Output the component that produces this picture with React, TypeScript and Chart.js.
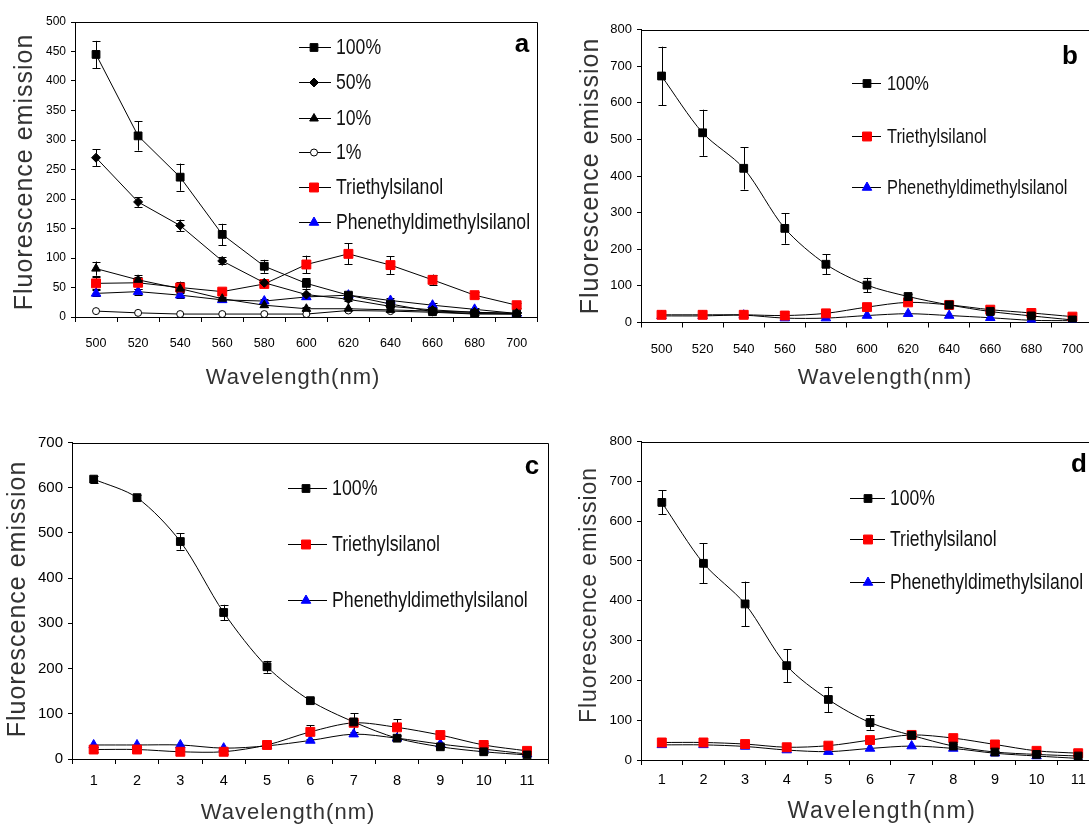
import React, { useEffect, useRef } from 'react';
import { Chart, registerables } from 'chart.js';
import { drawPoint } from 'chart.js/helpers';

Chart.register(...registerables);

// ---------- categories ----------
const wavelengthLabels = ['500', '520', '540', '560', '580', '600', '620', '640', '660', '680', '700'];
const indexLabels = ['1', '2', '3', '4', '5', '6', '7', '8', '9', '10', '11'];

// ---------- panel a ----------
const a100 = [445, 307, 237, 140, 86, 57, 37, 22, 9, 6, 5];
const a100Err = [23, 25, 23, 18, 11, 9, 4, 3, 2, 2, 2];
const a50 = [270, 195, 155, 95, 58, 38, 30, 18, 12, 8, 6];
const a50Err = [14, 8, 10, 6, 3, 3, 3, 2, 2, 2, 2];
const a10 = [82, 63, 48, 31, 20, 14, 14, 12, 10, 8, 6];
const a10Err = [12, 8, 6, 3, 3, 3, 2, 2, 2, 2, 2];
const a1 = [10, 7, 5, 5, 5, 5, 11, 10, 8, 5, 5];
const aTri = [57, 58, 50, 43, 56, 89, 107, 88, 63, 37, 20];
const aTriErr = [10, 10, 10, 4, 5, 15, 18, 15, 9, 5, 4];
const aPhen = [40, 43, 37, 29, 27, 34, 37, 28, 20, 13, 6];
const aPhenErr = [5, 5, 5, 3, 3, 4, 5, 5, 4, 3, 2];

// ---------- panel b ----------
const b100 = [673, 518, 421, 257, 159, 102, 71, 48, 30, 18, 7];
const b100Err = [80, 63, 58, 42, 27, 20, 6, 4, 3, 3, 2];
const bTri = [21, 21, 21, 19, 25, 42, 55, 48, 35, 26, 16];
const bPhen = [18, 18, 20, 12, 12, 19, 24, 19, 13, 6, 5];

// ---------- panel c ----------
const c100 = [619, 578, 481, 324, 204, 129, 82, 46, 27, 16, 9];
const c100Err = [8, 6, 18, 17, 13, 6, 5, 4, 3, 3, 2];
const cTri = [21, 21, 16, 16, 31, 60, 80, 70, 53, 31, 18];
const cTriErr = [5, 6, 4, 4, 4, 15, 21, 18, 6, 5, 3];
const cPhen = [31, 31, 31, 24, 29, 41, 55, 46, 33, 22, 11];

// ---------- panel d ----------
const d100 = [647, 494, 392, 237, 152, 94, 62, 35, 20, 14, 10];
const d100Err = [30, 50, 56, 41, 32, 18, 5, 4, 3, 3, 2];
const dTri = [44, 44, 40, 32, 36, 50, 63, 55, 39, 23, 17];
const dPhen = [38, 38, 34, 25, 21, 29, 35, 29, 17, 10, 4];

const yTitleText = 'Fluorescence emission';
const xTitleText = 'Wavelength(nm)';

const SANS = "'Liberation Sans', Arial, sans-serif";

type Marker = { style: string; radius: number; fill: string; stroke: string };
const SQ_BLACK: Marker = { style: 'rect', radius: 5.5, fill: '#000', stroke: '#000' };
const DIAMOND: Marker = { style: 'rectRot', radius: 4.5, fill: '#000', stroke: '#000' };
const TRI_BLACK: Marker = { style: 'triangle', radius: 5, fill: '#000', stroke: '#000' };
const CIRCLE_OPEN: Marker = { style: 'circle', radius: 3.5, fill: '#fff', stroke: '#000' };
const SQ_RED: Marker = { style: 'rect', radius: 6.3, fill: '#ff0000', stroke: '#ff0000' };
const TRI_BLUE: Marker = { style: 'triangle', radius: 5.5, fill: '#0000ff', stroke: '#0000ff' };

type SeriesSpec = { label: string; data: number[]; err?: number[]; marker: Marker };

interface Panel {
  letter: string;
  labels: string[];
  yMax: number;
  yStep: number;
  tension: number;
  series: SeriesSpec[];
  canvas: { left: number; top: number; width: number; height: number };
  area: { left: number; top: number; right: number; bottom: number };
  legend: { x0: number; x1: number; mx: number; tx: number; ys: number[]; size: number };
  letterPos: { x: number; y: number };
  yTitle: { x: number; y: number; size: number; spacing: number };
  xTitle: { x: number; y: number; size: number; spacing: number };
  xTick: { size: number; pad: number };
  yTick: { size: number };
}

const panels: Panel[] = [
  {
    letter: 'a',
    labels: wavelengthLabels,
    yMax: 500,
    yStep: 50,
    tension: 0,
    series: [
      { label: '100%', data: a100, err: a100Err, marker: SQ_BLACK },
      { label: '50%', data: a50, err: a50Err, marker: DIAMOND },
      { label: '10%', data: a10, err: a10Err, marker: TRI_BLACK },
      { label: '1%', data: a1, marker: CIRCLE_OPEN },
      { label: 'Triethylsilanol', data: aTri, err: aTriErr, marker: SQ_RED },
      { label: 'Phenethyldimethylsilanol', data: aPhen, err: aPhenErr, marker: TRI_BLUE },
    ],
    canvas: { left: 0, top: 0, width: 545, height: 400 },
    area: { left: 75, top: 22, right: 541, bottom: 317 },
    legend: { x0: 299, x1: 331, mx: 314, tx: 336, ys: [47, 82, 118, 152, 187, 222], size: 21.5 },
    letterPos: { x: 522, y: 45 },
    yTitle: { x: 25, y: 172, size: 25, spacing: 1 },
    xTitle: { x: 293, y: 378, size: 22, spacing: 1 },
    xTick: { size: 12.5, pad: 14 },
    yTick: { size: 12 },
  },
  {
    letter: 'b',
    labels: wavelengthLabels,
    yMax: 800,
    yStep: 100,
    tension: 0.3,
    series: [
      { label: '100%', data: b100, err: b100Err, marker: SQ_BLACK },
      { label: 'Triethylsilanol', data: bTri, marker: SQ_RED },
      { label: 'Phenethyldimethylsilanol', data: bPhen, marker: TRI_BLUE },
    ],
    canvas: { left: 543, top: 0, width: 560, height: 400 },
    area: { left: 641, top: 29.5, right: 1093, bottom: 322.5 },
    legend: { x0: 852, x1: 881, mx: 867, tx: 887, ys: [83, 136, 187], size: 20 },
    letterPos: { x: 1070, y: 57 },
    yTitle: { x: 591.5, y: 176, size: 25, spacing: 1 },
    xTitle: { x: 885, y: 378, size: 22, spacing: 1 },
    xTick: { size: 13, pad: 14 },
    yTick: { size: 13 },
  },
  {
    letter: 'c',
    labels: indexLabels,
    yMax: 700,
    yStep: 100,
    tension: 0.3,
    series: [
      { label: '100%', data: c100, err: c100Err, marker: SQ_BLACK },
      { label: 'Triethylsilanol', data: cTri, err: cTriErr, marker: SQ_RED },
      { label: 'Phenethyldimethylsilanol', data: cPhen, marker: TRI_BLUE },
    ],
    canvas: { left: 0, top: 400, width: 556, height: 440 },
    area: { left: 72, top: 442.5, right: 552.5, bottom: 759 },
    legend: { x0: 288, x1: 327, mx: 306, tx: 332, ys: [488, 544, 600], size: 21.7 },
    letterPos: { x: 532, y: 467 },
    yTitle: { x: 18, y: 599, size: 25, spacing: 1 },
    xTitle: { x: 288, y: 813, size: 22, spacing: 1 },
    xTick: { size: 14.5, pad: 8 },
    yTick: { size: 15 },
  },
  {
    letter: 'd',
    labels: indexLabels,
    yMax: 800,
    yStep: 100,
    tension: 0.3,
    series: [
      { label: '100%', data: d100, err: d100Err, marker: SQ_BLACK },
      { label: 'Triethylsilanol', data: dTri, marker: SQ_RED },
      { label: 'Phenethyldimethylsilanol', data: dPhen, marker: TRI_BLUE },
    ],
    canvas: { left: 556, top: 400, width: 560, height: 440 },
    area: { left: 641, top: 441.5, right: 1099, bottom: 760 },
    legend: { x0: 850, x1: 885, mx: 868, tx: 890, ys: [498, 539, 582], size: 21.4 },
    letterPos: { x: 1079, y: 465 },
    yTitle: { x: 590, y: 595, size: 23, spacing: 1 },
    xTitle: { x: 882, y: 812, size: 23, spacing: 1.5 },
    xTick: { size: 14.5, pad: 6 },
    yTick: { size: 13.5 },
  },
];

const SQUEEZE = 0.82;

function makeDecor(p: Panel) {
  const ox = p.canvas.left;
  const oy = p.canvas.top;
  return {
    id: 'decor_' + p.letter,
    beforeDatasetsDraw(chart: any) {
      const ctx = chart.ctx;
      const ys = chart.scales.y;
      ctx.save();
      ctx.strokeStyle = '#000';
      ctx.lineWidth = 1;
      p.series.forEach((s, i) => {
        if (!s.err) return;
        const meta = chart.getDatasetMeta(i);
        meta.data.forEach((pt: any, j: number) => {
          const e = s.err![j];
          if (!e) return;
          const v = s.data[j];
          const yT = ys.getPixelForValue(v + e);
          const yB = ys.getPixelForValue(Math.max(0, v - e));
          const x = Math.round(pt.x) + 0.5;
          ctx.beginPath();
          ctx.moveTo(x, yT);
          ctx.lineTo(x, yB);
          ctx.moveTo(x - 4, Math.round(yT) + 0.5);
          ctx.lineTo(x + 4, Math.round(yT) + 0.5);
          ctx.moveTo(x - 4, Math.round(yB) + 0.5);
          ctx.lineTo(x + 4, Math.round(yB) + 0.5);
          ctx.stroke();
        });
      });
      ctx.restore();
    },
    afterDraw(chart: any) {
      const ctx = chart.ctx;
      const a = chart.chartArea;
      ctx.save();
      // frame
      ctx.strokeStyle = '#000';
      ctx.lineWidth = 1;
      const l = Math.round(a.left) + 0.5;
      const t = Math.round(a.top) + 0.5;
      const r = Math.round(a.right) - 0.5;
      const b = Math.round(a.bottom) + 0.5;
      ctx.beginPath();
      ctx.moveTo(l, b);
      ctx.lineTo(l, t);
      ctx.lineTo(r, t);
      ctx.lineTo(r, b);
      ctx.stroke();

      // legend
      p.series.forEach((s, i) => {
        const y = p.legend.ys[i] - oy;
        ctx.strokeStyle = '#000';
        ctx.lineWidth = 1;
        ctx.beginPath();
        ctx.moveTo(p.legend.x0 - ox, Math.round(y) + 0.5);
        ctx.lineTo(p.legend.x1 - ox, Math.round(y) + 0.5);
        ctx.stroke();
        ctx.fillStyle = s.marker.fill;
        ctx.strokeStyle = s.marker.stroke;
        drawPoint(
          ctx,
          { pointStyle: s.marker.style as any, radius: s.marker.radius, borderWidth: 1, rotation: 0 },
          p.legend.mx - ox,
          Math.round(y) + 0.5
        );
        ctx.fillStyle = '#111';
        ctx.font = `${p.legend.size}px ${SANS}`;
        ctx.textAlign = 'left';
        ctx.textBaseline = 'middle';
        ctx.save();
        ctx.translate(p.legend.tx - ox, y + 1);
        ctx.scale(SQUEEZE, 1);
        ctx.fillText(s.label, 0, 0);
        ctx.restore();
      });

      // panel letter
      ctx.fillStyle = '#000';
      ctx.font = `bold 26px ${SANS}`;
      ctx.textAlign = 'center';
      ctx.textBaseline = 'middle';
      ctx.fillText(p.letter, p.letterPos.x - ox, p.letterPos.y - oy);

      // axis titles
      ctx.fillStyle = '#333';
      (ctx as any).letterSpacing = `${p.yTitle.spacing}px`;
      ctx.font = `${p.yTitle.size}px ${SANS}`;
      ctx.save();
      ctx.translate(p.yTitle.x - ox, p.yTitle.y - oy);
      ctx.rotate(-Math.PI / 2);
      ctx.fillText(yTitleText, 0, 0);
      ctx.restore();
      (ctx as any).letterSpacing = `${p.xTitle.spacing}px`;
      ctx.font = `${p.xTitle.size}px ${SANS}`;
      ctx.fillText(xTitleText, p.xTitle.x - ox, p.xTitle.y - oy);
      (ctx as any).letterSpacing = '0px';
      ctx.restore();
    },
  };
}

function PanelChart({ p }: { p: Panel }) {
  const ref = useRef<HTMLCanvasElement>(null);
  useEffect(() => {
    if (!ref.current) return;
    const yW = p.area.left - p.canvas.left;
    const xH = p.canvas.top + p.canvas.height - p.area.bottom;
    const chart = new Chart(ref.current, {
      type: 'line',
      data: {
        labels: p.labels,
        datasets: p.series.map((s) => ({
          label: s.label,
          data: s.data,
          borderColor: '#000',
          borderWidth: 1,
          backgroundColor: s.marker.fill,
          pointStyle: s.marker.style as any,
          pointRadius: s.marker.radius,
          pointHoverRadius: s.marker.radius,
          pointBackgroundColor: s.marker.fill,
          pointBorderColor: s.marker.stroke,
          pointBorderWidth: 1,
          tension: p.tension,
          fill: false,
        })),
      },
      options: {
        responsive: false,
        animation: false,
        devicePixelRatio: 1,
        layout: {
          padding: {
            left: 0,
            top: p.area.top - p.canvas.top,
            right: p.canvas.left + p.canvas.width - p.area.right,
            bottom: 0,
          },
        },
        plugins: {
          legend: { display: false },
          tooltip: { enabled: false },
          title: { display: false },
        },
        scales: {
          x: {
            type: 'category',
            offset: true,
            grid: { offset: true, drawOnChartArea: false, drawTicks: true, tickLength: 5, color: '#000', lineWidth: 1 },
            border: { color: '#000', width: 1 },
            ticks: {
              autoSkip: false,
              maxRotation: 0,
              color: '#000',
              padding: p.xTick.pad,
              font: { family: SANS, size: p.xTick.size },
            },
            afterFit: (s: any) => {
              s.height = xH;
            },
          },
          y: {
            type: 'linear',
            min: 0,
            max: p.yMax,
            grid: { drawOnChartArea: false, drawTicks: true, tickLength: 4, color: '#000', lineWidth: 1 },
            border: { color: '#000', width: 1 },
            ticks: {
              stepSize: p.yStep,
              color: '#000',
              padding: 5,
              font: { family: SANS, size: p.yTick.size },
            },
            afterFit: (s: any) => {
              s.width = yW;
            },
          },
        },
      },
      plugins: [makeDecor(p)],
    } as any);
    return () => chart.destroy();
  }, [p]);
  return (
    <canvas
      ref={ref}
      width={p.canvas.width}
      height={p.canvas.height}
      style={{
        position: 'absolute',
        left: p.canvas.left,
        top: p.canvas.top,
        width: p.canvas.width,
        height: p.canvas.height,
      }}
    />
  );
}

export default function App() {
  return (
    <div
      style={{
        position: 'fixed',
        left: 0,
        top: 0,
        width: 1089,
        height: 824,
        overflow: 'hidden',
        background: '#fff',
      }}
    >
      {panels.map((p) => (
        <PanelChart key={p.letter} p={p} />
      ))}
    </div>
  );
}
